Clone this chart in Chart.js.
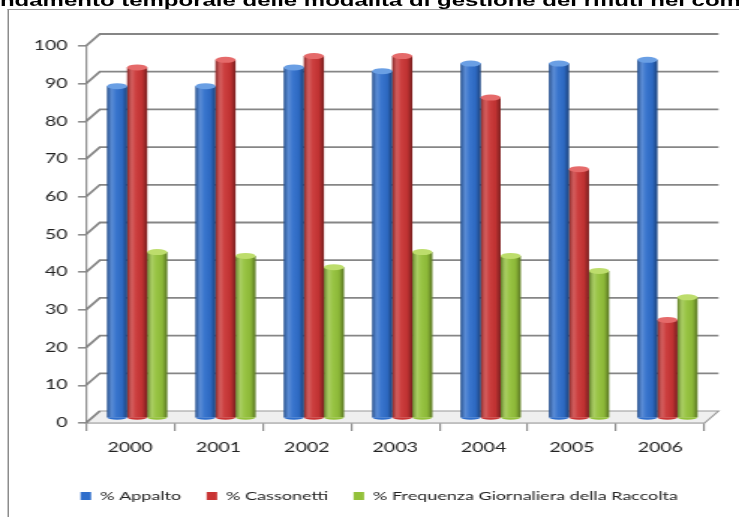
<!DOCTYPE html>
<html>
<head>
<meta charset="utf-8">
<script src="https://cdn.jsdelivr.net/npm/chart.js@4/dist/chart.umd.min.js"></script>
<style>
  html, body { margin: 0; padding: 0; width: 739px; height: 517px; overflow: hidden; background: #fff; }
  /* il grafico originale e' stirato in orizzontale: lo disegno stretto e poi lo allargo */
  #stage { position: absolute; left: 0; top: 0; width: 493px; height: 517px; transform: scaleX(1.499); transform-origin: 0 0; }
  #titolo { position: absolute; left: -11.6px; top: -7.5px; white-space: nowrap; font: bold 16px/16px "Liberation Sans", Arial, sans-serif; color: #000; }
  #cornice { position: absolute; left: 5px; top: 9px; width: 700px; height: 700px; border-left: 1.5px solid #8c8c8c; border-top: 1.5px solid #9c9c9c; }
  canvas { position: absolute; left: 0; top: 0; }
</style>
</head>
<body>
<div id="stage">
  <div id="cornice"></div>
  <div id="titolo">Andamento temporale delle modalità di gestione dei rifiuti nel comune</div>
  <canvas id="grafico" width="493" height="517"></canvas>
</div>
<script>
const anni = ["2000", "2001", "2002", "2003", "2004", "2005", "2006"];
const appalto = [88, 88, 93, 92, 94, 94, 95];
const cassonetti = [93, 95, 96, 96, 85, 66, 26];
const frequenza = [44, 43, 40, 44, 43, 39, 32];

// finto 3D: parete di fondo spostata rispetto agli assi, barre a meta' profondita'
const FONDO_X = 9.3, FONDO_Y = 12;
const BARRE_X = 4.7, BARRE_Y = 5;

const coloriCappello = ["#6a9fe4", "#e56a6a", "#bddd6c"];

const cilindri = {
    id: "cilindri",
    afterLayout(chart) {
        // la legenda dell'originale e' un po' spostata a destra
        chart.legend.left = 36;
    },
    beforeDatasetsDraw(chart) {
        const { ctx, chartArea: a, scales } = chart;
        const y = scales.y;
        ctx.save();
        // pavimento
        ctx.beginPath();
        ctx.moveTo(a.left, a.bottom);
        ctx.lineTo(a.right, a.bottom);
        ctx.lineTo(a.right + FONDO_X, a.bottom - FONDO_Y);
        ctx.lineTo(a.left + FONDO_X, a.bottom - FONDO_Y);
        ctx.closePath();
        ctx.fillStyle = "#efefef";
        ctx.fill();
        ctx.strokeStyle = "#9a9a9a";
        ctx.lineWidth = 1.2;
        ctx.stroke();
        // linee della griglia sulla parete di fondo
        ctx.strokeStyle = "#868686";
        ctx.lineWidth = 1.8;
        y.ticks.forEach(t => {
            const py = y.getPixelForValue(t.value);
            ctx.beginPath();
            ctx.moveTo(a.left, py);
            ctx.lineTo(a.left + FONDO_X, py - FONDO_Y);
            if (t.value > 0) ctx.lineTo(a.right + FONDO_X, py - FONDO_Y);
            ctx.stroke();
        });
        ctx.restore();
        ctx.save();
        ctx.translate(BARRE_X, -BARRE_Y);
    },
    afterDatasetsDraw(chart) {
        const ctx = chart.ctx;
        chart.data.datasets.forEach((ds, i) => {
            chart.getDatasetMeta(i).data.forEach(bar => {
                const w = bar.width, x0 = bar.x - w / 2;
                const g = ctx.createLinearGradient(x0, 0, x0 + w, 0);
                g.addColorStop(0, "rgba(0,0,0,0.35)");
                g.addColorStop(0.25, "rgba(255,255,255,0.2)");
                g.addColorStop(0.45, "rgba(255,255,255,0.05)");
                g.addColorStop(0.75, "rgba(0,0,0,0.05)");
                g.addColorStop(1, "rgba(0,0,0,0.4)");
                ctx.fillStyle = g;
                ctx.fillRect(x0, bar.y, w, bar.base - bar.y);
                ctx.beginPath();
                ctx.ellipse(bar.x, bar.base, w / 2, 2.5, 0, 0, Math.PI);
                ctx.fillStyle = ds.backgroundColor;
                ctx.fill();
                ctx.beginPath();
                ctx.ellipse(bar.x, bar.y, w / 2, 3, 0, 0, Math.PI * 2);
                ctx.fillStyle = coloriCappello[i];
                ctx.fill();
            });
        });
        ctx.restore();
    }
};

new Chart(document.getElementById("grafico"), {
    type: "bar",
    data: {
        labels: anni,
        datasets: [
            { label: "% Appalto", data: appalto, backgroundColor: "#2f6ecb" },
            { label: "% Cassonetti", data: cassonetti, backgroundColor: "#c93434" },
            { label: "% Frequenza Giornaliera della Raccolta", data: frequenza, backgroundColor: "#93c13a" }
        ]
    },
    options: {
        responsive: false,
        animation: false,
        events: [],
        layout: { padding: { left: 0, right: 23, top: 46, bottom: 5 } },
        datasets: { bar: { barPercentage: 1, categoryPercentage: 0.68, borderWidth: 0 } },
        plugins: {
            title: { display: false },
            tooltip: { enabled: false },
            legend: {
                position: "bottom",
                labels: {
                    color: "#222",
                    font: { family: "Lato", size: 12 },
                    boxWidth: 7,
                    boxHeight: 8,
                    padding: 17
                }
            }
        },
        scales: {
            x: {
                afterFit: s => { s.height = 50; },
                border: { color: "#9a9a9a", width: 1.2 },
                grid: { drawOnChartArea: false, tickLength: 8, color: "#8e8e8e", lineWidth: 1.2 },
                ticks: { color: "#222", font: { family: "Lato", size: 13 }, padding: 9 }
            },
            y: {
                min: 0,
                max: 100,
                afterFit: s => { s.width = 57.3; },
                border: { color: "#8e8e8e", width: 1.2 },
                grid: { drawOnChartArea: false, tickLength: 5.3, color: "#8e8e8e", lineWidth: 1.6 },
                ticks: { stepSize: 10, color: "#222", font: { family: "Lato", size: 13 }, padding: 7 }
            }
        }
    },
    plugins: [cilindri]
});
</script>
</body>
</html>
